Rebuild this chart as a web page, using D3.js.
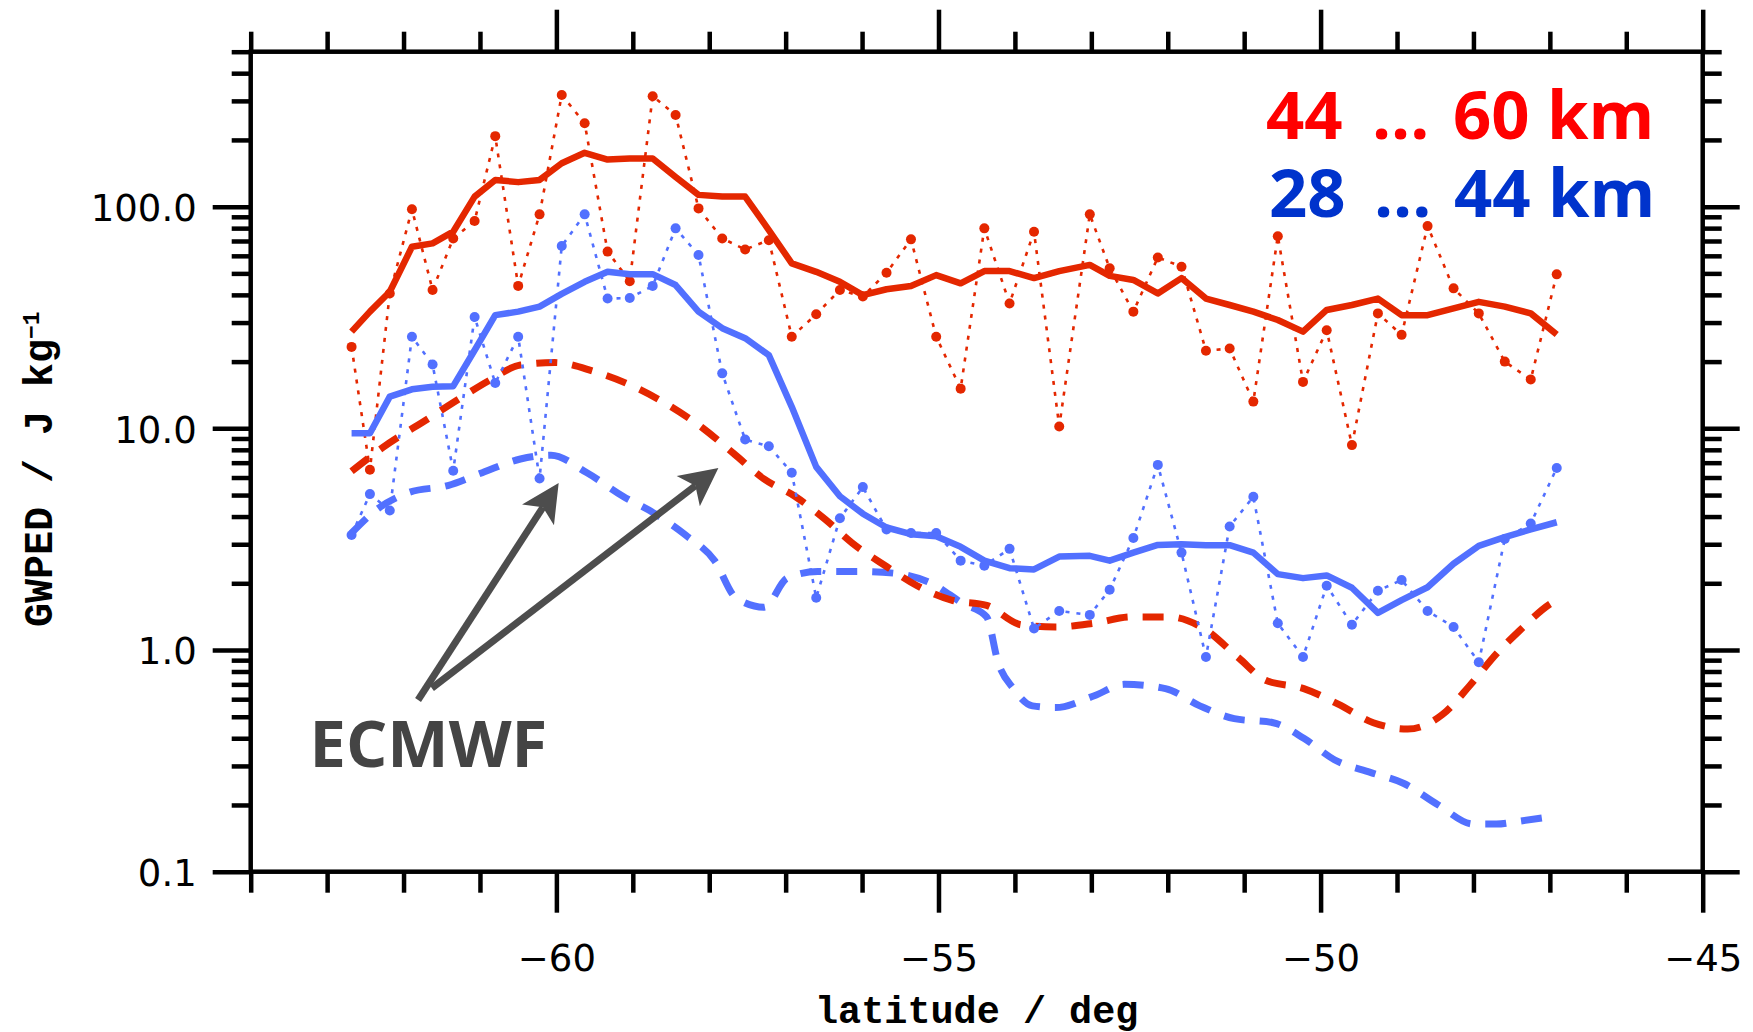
<!DOCTYPE html>
<html>
<head>
<meta charset="utf-8">
<script src="https://cdn.jsdelivr.net/npm/d3@7"></script>
<style>
body { margin: 0; background: #fff; }
svg { display: block; }
</style>
</head>
<body>
<div id="chart"></div>
<script>
// latitude of each observation bin (deg)
var lat = [-62.68, -62.44, -62.18, -61.89, -61.62, -61.35, -61.07, -60.80, -60.50, -60.22,
    -59.93, -59.63, -59.33, -59.04, -58.74, -58.44, -58.14, -57.83, -57.53, -57.22,
    -56.92, -56.60, -56.29, -55.99, -55.68, -55.36, -55.03, -54.71, -54.40, -54.07,
    -53.75, -53.42, -53.02, -52.76, -52.45, -52.13, -51.82, -51.50, -51.19, -50.88,
    -50.56, -50.23, -49.92, -49.59, -49.25, -48.94, -48.60, -48.26, -47.93, -47.59,
    -47.25, -46.91];

// 44 ... 60 km, single bins (dotted) and smoothed (solid)
var highObs = [23.3, 6.5, 40.6, 97.3, 42.1, 71.9, 86.1, 208, 43.9, 92.3,
    319, 238, 62.7, 46.1, 315, 259, 98.2, 71.9, 64.1, 70.6,
    25.9, 32.7, 42.1, 39.3, 50.3, 71.2, 25.9, 15.1, 79.8, 36.6,
    77.1, 10.2, 92.3, 52.7, 33.6, 59.0, 53.6, 22.4, 22.9, 13.2,
    73.6, 16.2, 27.7, 8.4, 33.0, 26.4, 81.7, 42.8, 33.0, 20.0,
    16.6, 49.5];
var highMean = [27.3, 33.6, 41.3, 65.9, 68.3, 77.1, 111, 132, 129, 132,
    157, 175, 163, 165, 165, 136, 113, 111, 111, 78.4,
    55.5, 50.8, 45.8, 39.9, 42.4, 43.9, 49.1, 45.1, 51.2, 51.2,
    47.6, 51.2, 54.6, 48.7, 46.7, 40.6, 47.6, 38.5, 36.0, 33.6,
    30.8, 27.3, 34.2, 36.0, 38.5, 32.4, 32.4, 34.8, 37.2, 35.4,
    33.0, 26.5];

// 28 ... 44 km
var lowObs = [3.30, 5.05, 4.26, 25.9, 19.4, 6.44, 31.8, 16.0, 25.9, 5.94,
    66.4, 92.3, 38.5, 38.7, 43.9, 79.8, 60.5, 17.7, 8.9, 8.3,
    6.31, 1.72, 3.93, 5.43, 3.5, 3.37, 3.37, 2.53, 2.4, 2.86,
    1.25, 1.50, 1.44, 1.87, 3.2, 6.84, 2.75, 0.93, 3.61, 4.91,
    1.32, 0.93, 1.95, 1.30, 1.85, 2.07, 1.50, 1.27, 0.88, 3.17,
    3.72, 6.62];
var lowMean = [9.5, 9.5, 13.9, 15.0, 15.4, 15.5, 22.5, 32.4, 33.6, 35.4,
    40.4, 45.8, 50.8, 49.6, 49.6, 44.3, 33.6, 28.3, 25.5, 21.4,
    12.5, 6.7, 4.94, 4.12, 3.57, 3.33, 3.26, 2.92, 2.53, 2.34,
    2.31, 2.64, 2.66, 2.53, 2.75, 2.98, 3.0, 2.97, 2.97, 2.75,
    2.20, 2.11, 2.17, 1.91, 1.47, 1.68, 1.92, 2.45, 2.95, 3.23,
    3.50, 3.77];

// ECMWF (dashed)
var ecHighLat = [-62.68, -62.27, -61.67, -61.27, -60.87, -60.47, -60.02, -59.52, -58.93, -58.53,
    -58.08, -57.68, -57.28, -56.88, -56.48, -56.13, -55.68, -55.28, -54.83, -54.37,
    -53.92, -53.47, -52.97, -52.47, -51.98, -51.53, -51.07, -50.72, -50.22, -49.77,
    -49.31, -48.86, -48.41, -48.05, -47.70, -47.40, -46.99, -46.90];
var ecHigh = [6.4, 8.2, 11.1, 13.6, 16.5, 19.3, 19.8, 18.1, 15.1, 12.7,
    10.0, 7.7, 5.9, 4.94, 3.88, 3.04, 2.38, 1.95, 1.68, 1.59,
    1.30, 1.27, 1.32, 1.41, 1.41, 1.25, 0.92, 0.73, 0.67, 0.57,
    0.47, 0.44, 0.51, 0.69, 0.96, 1.22, 1.62, 1.69];
var ecLowLat = [-62.68, -62.32, -61.92, -61.42, -60.97, -60.47, -60.07, -59.60, -59.13, -58.71,
    -58.31, -57.93, -57.65, -57.28, -56.98, -56.58, -56.03, -55.58, -55.08, -54.68,
    -54.37, -54.22, -54.02, -53.77, -53.47, -52.97, -52.57, -52.03, -51.58, -51.13,
    -50.62, -50.22, -49.82, -49.34, -48.91, -48.46, -48.00, -47.70, -47.40, -46.95];
var ecLow = [3.37, 4.38, 5.15, 5.52, 6.31, 7.27, 7.57, 6.3, 4.94, 4.12,
    3.30, 2.53, 1.72, 1.56, 2.11, 2.26, 2.26, 2.22, 1.99, 1.62,
    1.41, 0.88, 0.67, 0.56, 0.55, 0.62, 0.70, 0.67, 0.56, 0.49,
    0.47, 0.40, 0.32, 0.28, 0.25, 0.20, 0.164, 0.164, 0.169, 0.178];

var xTicks = [-60, -55, -50, -45];
var yTicks = [0.1, 1, 10, 100];
// legend pieces: from, dots, to
var legendLabels = [["44", "...", "60 km"], ["28", "...", "44 km"]];

var red = "#e42700", blue = "#5270ff";

var margin = { top: 51.7, left: 250.7 },
    width = 1452,
    height = 820;

var x = d3.scaleLinear().domain([-64, -45]).range([0, width]),
    y = d3.scaleLog().domain([0.1, 500]).range([height, 0]);

var svg = d3.select("#chart").append("svg")
    .attr("width", 1753)
    .attr("height", 1032);

var g = svg.append("g")
    .attr("transform", "translate(" + margin.left + "," + margin.top + ")");

var isDecade = function (v) { return Math.abs(Math.log10(v) - Math.round(Math.log10(v))) < 1e-6; };
var minorX = d3.range(-64, -44).filter(function (d) { return xTicks.indexOf(d) < 0; });
var minorY = y.ticks().filter(function (d) { return !isDecade(d); });

function addAxis(gen, transform) {
    var a = g.append("g").attr("class", "axis").attr("transform", transform || null).call(gen);
    a.select(".domain").remove();
    a.selectAll("line").attr("stroke", "#000").attr("stroke-width", 4.5);
    return a;
}

// bottom
addAxis(d3.axisBottom(x).tickValues(minorX).tickSize(21).tickFormat(""), "translate(0," + height + ")");
addAxis(d3.axisBottom(x).tickValues(xTicks).tickSize(41).tickPadding(32).tickFormat(d3.format("d")), "translate(0," + height + ")")
    .selectAll("text").attr("fill", "#000")
    .style("font-family", "DejaVu Sans").style("font-size", "37px");
// top
addAxis(d3.axisTop(x).tickValues(minorX).tickSize(20).tickFormat(""));
addAxis(d3.axisTop(x).tickValues(xTicks).tickSize(42).tickFormat(""));
// left
addAxis(d3.axisLeft(y).tickValues(minorY).tickSize(19).tickFormat(""));
addAxis(d3.axisLeft(y).tickValues(yTicks).tickSize(38).tickPadding(16).tickFormat(d3.format(".1f")))
    .selectAll("text").attr("fill", "#000").attr("dy", "0.37em")
    .style("font-family", "DejaVu Sans").style("font-size", "37px");
// right
addAxis(d3.axisRight(y).tickValues(minorY).tickSize(19).tickFormat(""), "translate(" + width + ",0)");
addAxis(d3.axisRight(y).tickValues(yTicks).tickSize(37).tickFormat(""), "translate(" + width + ",0)");

g.append("rect")
    .attr("width", width)
    .attr("height", height)
    .attr("fill", "none")
    .attr("stroke", "#000")
    .attr("stroke-width", 4.5);

// axis titles
svg.append("text")
    .attr("x", margin.left + width / 2)
    .attr("y", 1023)
    .attr("text-anchor", "middle")
    .style("font-family", "Liberation Mono")
    .style("font-weight", "bold")
    .style("font-size", "38.5px")
    .text("latitude / deg");

var yt = svg.append("text")
    .attr("transform", "translate(52,627)rotate(-90)")
    .attr("text-anchor", "start")
    .style("font-family", "Liberation Mono")
    .style("font-weight", "bold")
    .style("font-size", "40px");
yt.append("tspan").text("GWPED / J kg");
yt.append("tspan").attr("dy", -13).style("font-size", "23px").text("\u22121");

// curves
var line = d3.line()
    .x(function (d) { return x(d[0]); })
    .y(function (d) { return y(d[1]); });
var smooth = d3.line()
    .curve(d3.curveMonotoneX)
    .x(function (d) { return x(d[0]); })
    .y(function (d) { return y(d[1]); });

var plot = g.append("g");

plot.append("path").datum(d3.zip(ecLowLat, ecLow))
    .attr("d", smooth).attr("fill", "none").attr("stroke", blue)
    .attr("stroke-width", 7).attr("stroke-dasharray", "21,15");
plot.append("path").datum(d3.zip(ecHighLat, ecHigh))
    .attr("d", smooth).attr("fill", "none").attr("stroke", red)
    .attr("stroke-width", 7).attr("stroke-dasharray", "21,15");

[[lowObs, blue], [highObs, red]].forEach(function (s) {
    var pts = d3.zip(lat, s[0]);
    plot.append("path").datum(pts)
        .attr("d", line).attr("fill", "none").attr("stroke", s[1])
        .attr("stroke-width", 2.6).attr("stroke-dasharray", "4,7");
    plot.selectAll(null).data(pts).enter().append("circle")
        .attr("cx", function (d) { return x(d[0]); })
        .attr("cy", function (d) { return y(d[1]); })
        .attr("r", 5)
        .attr("fill", s[1]);
});

[[lowMean, blue], [highMean, red]].forEach(function (s) {
    plot.append("path").datum(d3.zip(lat, s[0]))
        .attr("d", line).attr("fill", "none").attr("stroke", s[1])
        .attr("stroke-width", 6.5).attr("stroke-linejoin", "round");
});

// legend
var legendColors = ["#ff0000", "#0033cc"];
var legendY = [139, 217];
var legendX = [[1266, 1372, 1453], [1269, 1374, 1454]];
legendLabels.forEach(function (parts, i) {
    var t = svg.append("text")
        .attr("y", legendY[i])
        .attr("fill", legendColors[i])
        .style("font-family", "Open Sans").style("font-weight", "bold").style("font-size", "67px");
    parts.forEach(function (p, j) {
        t.append("tspan").attr("x", legendX[i][j]).text(p);
    });
});

// ECMWF annotation with two arrows
var grey = "#4d4d4d";
function arrow(p0, p1) {
    var x0 = x(p0[0]), y0 = y(p0[1]), x1 = x(p1[0]), y1 = y(p1[1]);
    var dx = x1 - x0, dy = y1 - y0, L = Math.hypot(dx, dy), ux = dx / L, uy = dy / L;
    var hl = 38, hw = 19, notch = 9;
    var bx = x1 - ux * hl, by = y1 - uy * hl;
    var nx = x1 - ux * (hl - notch), ny = y1 - uy * (hl - notch);
    g.append("line")
        .attr("x1", x0).attr("y1", y0).attr("x2", nx).attr("y2", ny)
        .attr("stroke", grey).attr("stroke-width", 7);
    g.append("path")
        .attr("d", "M" + x1 + "," + y1 +
            "L" + (bx - uy * hw) + "," + (by + ux * hw) +
            "L" + nx + "," + ny +
            "L" + (bx + uy * hw) + "," + (by - ux * hw) + "Z")
        .attr("fill", grey);
}
arrow([-61.81, 0.595], [-59.97, 5.67]);
arrow([-61.63, 0.673], [-57.88, 6.62]);

g.append("text")
    .attr("x", x(-63.23)).attr("y", y(0.296))
    .attr("fill", "#444444")
    .style("font-family", "Open Sans").style("font-weight", "bold").style("font-size", "65px")
    .text("ECMWF");
</script>
</body>
</html>
